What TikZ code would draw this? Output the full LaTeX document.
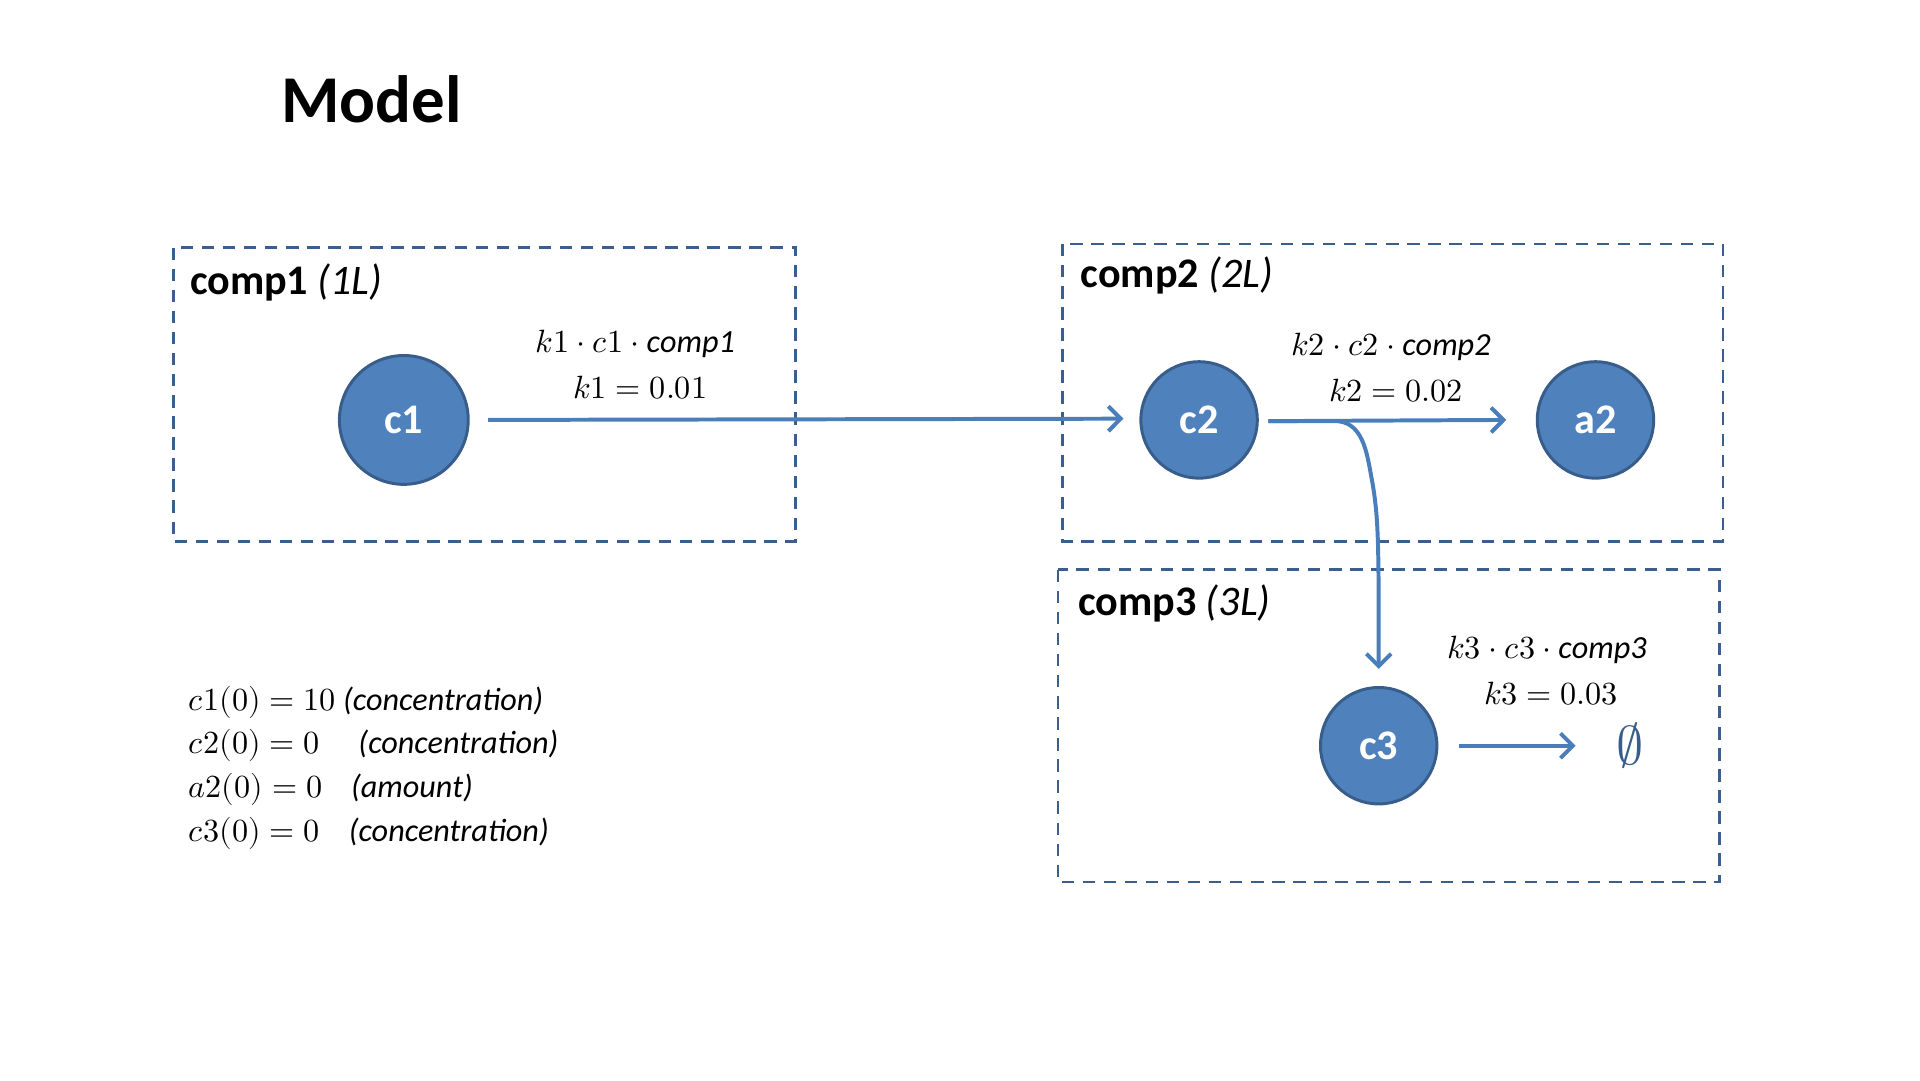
\documentclass[tikz,border=0pt]{standalone}
\usepackage{fontspec}
\setmainfont{Carlito}
\usepackage{unicode-math}
\setmathfont{Latin Modern Math}
\usetikzlibrary{arrows.meta}
\definecolor{nfill}{HTML}{4F81BD}
\definecolor{nborder}{HTML}{385D8A}
\definecolor{dash}{HTML}{3A5F8F}
\definecolor{arr}{HTML}{4A7EBB}
\begin{document}
\begin{tikzpicture}[x=0.5pt,y=-0.5pt,
  sp/.style={circle,fill=nfill,draw=nborder,line width=1.2pt,text=white,font=\fontsize{17}{20}\selectfont\bfseries,inner sep=0pt},
  box/.style={draw=dash,dashed,line width=1.1pt,dash pattern=on 5pt off 3.5pt},
  flow/.style={draw=arr,line width=1.6pt,-{Straight Barb[length=5pt,width=10pt]}},
  lab/.style={font=\fontsize{13}{15}\selectfont,inner sep=0pt},
  cl/.style={font=\fontsize{17}{20}\selectfont,anchor=west,inner sep=0pt}]
\useasboundingbox (0,0) rectangle (1550,872);
\node[font=\fontsize{27}{30}\selectfont\bfseries] (title) at (300,80) {Model};
\draw[box] (140,200) rectangle (642,437);
\draw[box] (858,197) rectangle (1391,437);
\draw[box] (854,460) rectangle (1388,712);
\node[cl] (l1) at (153,228) {\textbf{comp1} \textit{(1L)}};
\node[cl] (l2) at (872,222) {\textbf{comp2} \textit{(2L)}};
\node[cl] (l3) at (870,487) {\textbf{comp3} \textit{(3L)}};
\node[sp,minimum size=52pt] (c1) at (326,339) {c1};
\node[sp,minimum size=47pt] (c2) at (968,339) {c2};
\node[sp,minimum size=47pt] (a2) at (1288,339) {a2};
\node[sp,minimum size=47pt] (c3) at (1113,602) {c3};
\node[font=\fontsize{22}{24}\selectfont,text=nborder] (e) at (1316,602) {$\varnothing$};
\coordinate (s1) at (394,339);
\coordinate (t1) at (907,338);
\coordinate (s2) at (1024,340);
\coordinate (t2) at (1216,339);
\coordinate (t3) at (1113,540);
\coordinate (s4) at (1178,602);
\coordinate (t4) at (1272,602);
\draw[flow] (s1) -- (t1);
\draw[flow] (s2) -- (t2);
\draw[flow] (s2) -- (1080,340) .. controls (1102,342) and (1104,370) .. (1108,390) .. controls (1113,420) and (1113,440) .. (t3);
\draw[flow] (s4) -- (t4);
\node[lab] (f1) at (513,278) {$k1\cdot c1\cdot\mathit{comp1}$};
\node[lab] (p1) at (517,313) {$k1=0.01$};
\node[lab] (f2) at (1123,280) {$k2\cdot c2\cdot\mathit{comp2}$};
\node[lab] (p2) at (1127,315) {$k2=0.02$};
\node[lab] (f3) at (1249,525) {$k3\cdot c3\cdot\mathit{comp3}$};
\node[lab] (p3) at (1252,560) {$k3=0.03$};
\node[lab,anchor=west] (i1) at (152,567) {$c1(0)=10$ \textit{(concentration)}};
\node[lab,anchor=west] (i2) at (152,602) {$c2(0)=0$\hspace{1.2em}\textit{(concentration)}};
\node[lab,anchor=west] (i3) at (152,637) {$a2(0)=0$\hspace{0.9em}\textit{(amount)}};
\node[lab,anchor=west] (i4) at (152,673) {$c3(0)=0$\hspace{0.9em}\textit{(concentration)}};
\end{tikzpicture}
\end{document}
